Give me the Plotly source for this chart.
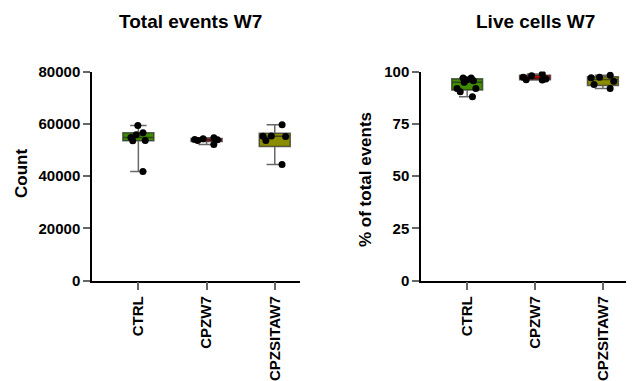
import numpy as np
import plotly.graph_objects as go

categories = ["CTRL", "CPZW7", "CPZSITAW7"]

# Total events W7 (Count)
total_ctrl = [59330, 55770, 56540, 54740, 53590, 53470, 41720]
total_cpzw7 = [53590, 54600, 53860, 54240, 52060, 53980]
total_cpzsitaw7 = [59600, 55240, 55100, 55300, 53590, 44400]

# Live cells W7 (% of total events)
live_ctrl = [94.8, 96.1, 95.6, 96.9, 96.9, 91.9, 91.9, 90.3, 87.9]
live_cpzw7 = [96.1, 98.0, 96.4, 97.2, 98.8, 95.9]
live_cpzsitaw7 = [98.2, 97.2, 97.0, 95.3, 91.9, 93.8]

total_ticks = [0, 20000, 40000, 60000, 80000]
live_ticks = [0, 25, 50, 75, 100]

fills = ["#3f8c00", "#cc0000", "#8c8c00"]

W, H = 639, 381
FONT = "Liberation Sans, Arial, sans-serif"

fig = go.Figure()


def add_group(cat, vals, color, xa, ya):
    v = np.asarray(vals, dtype=float)
    q1, med, q3 = np.percentile(v, [25, 50, 75], method="weibull")
    fig.add_trace(go.Box(
        x=[cat], q1=[q1], median=[med], q3=[q3],
        lowerfence=[v.min()], upperfence=[v.max()],
        fillcolor=color, line=dict(color="rgba(40,40,40,0.7)", width=1.5),
        whiskerwidth=0.53, boxpoints=False, showlegend=False,
        xaxis=xa, yaxis=ya, hoverinfo="skip",
    ))
    fig.add_trace(go.Box(
        x=[cat] * len(v), y=v, boxpoints="all", jitter=0.9, pointpos=0,
        fillcolor="rgba(0,0,0,0)", line=dict(color="rgba(0,0,0,0)", width=0),
        marker=dict(color="black", size=7, line=dict(width=0)),
        showlegend=False, xaxis=xa, yaxis=ya, hoverinfo="skip",
    ))


for cat, vals, col in zip(categories, [total_ctrl, total_cpzw7, total_cpzsitaw7], fills):
    add_group(cat, vals, col, "x", "y")
for cat, vals, col in zip(categories, [live_ctrl, live_cpzw7, live_cpzsitaw7], fills):
    add_group(cat, vals, col, "x2", "y2")

ydom = [1 - 280.5 / H, 1 - 71.5 / H]

common_x = dict(
    type="category", categoryorder="array", categoryarray=categories,
    showline=True, linecolor="black", linewidth=1.5,
    ticks="outside", ticklen=8, tickwidth=1.5, tickcolor="#666666",
    tickangle=-90, showgrid=False, zeroline=False, fixedrange=True,
    tickfont=dict(family=FONT, size=15, color="black", weight="bold"),
)
common_y = dict(
    showline=True, linecolor="black", linewidth=1.5,
    ticks="outside", ticklen=7, tickwidth=1.5, tickcolor="#666666",
    showgrid=False, zeroline=False,
    tickfont=dict(family=FONT, size=15, color="black", weight="bold"),
)

fig.update_layout(
    width=W, height=H,
    margin=dict(l=0, r=0, t=0, b=0, autoexpand=False),
    paper_bgcolor="white", plot_bgcolor="white",
    boxmode="overlay", boxgap=0.35,
    xaxis=dict(common_x, domain=[92 / W, 300 / W], anchor="y", range=[-0.68, 2.37]),
    yaxis=dict(common_y, domain=ydom, anchor="x", range=[0, 80000],
               tickvals=total_ticks, ticktext=[str(t) for t in total_ticks]),
    xaxis2=dict(common_x, domain=[421 / W, 626 / W], anchor="y2", range=[-0.68, 2.34]),
    yaxis2=dict(common_y, domain=ydom, anchor="x2", range=[0, 100],
                tickvals=live_ticks, ticktext=[str(t) for t in live_ticks]),
)

ann_font = dict(family=FONT, color="black", weight="bold")
ann_common = dict(xref="paper", yref="paper", showarrow=False, xanchor="center", yanchor="middle")
fig.add_annotation(text="Total events W7", x=190 / W, y=1 - 21 / H,
                   font=dict(ann_font, size=19), **ann_common)
fig.add_annotation(text="Live cells W7", x=535 / W, y=1 - 21 / H,
                   font=dict(ann_font, size=19), **ann_common)
fig.add_annotation(text="Count", x=21 / W, y=1 - 174 / H, textangle=-90,
                   font=dict(ann_font, size=17), **ann_common)
fig.add_annotation(text="% of total events", x=365 / W, y=1 - 180 / H, textangle=-90,
                   font=dict(ann_font, size=17), **ann_common)

fig.write_html("out.html")
